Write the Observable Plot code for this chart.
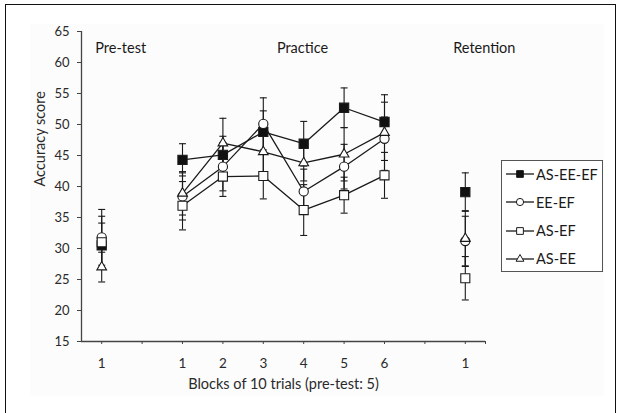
<!DOCTYPE html>
<html>
<head>
<meta charset="utf-8">
<script src="https://cdn.jsdelivr.net/npm/d3@7"></script>
<script src="https://cdn.jsdelivr.net/npm/@observablehq/plot@0.6"></script>
<style>
  html, body { margin: 0; padding: 0; background: #fff; overflow: hidden; }
  #wrap { position: relative; width: 620px; height: 413px; overflow: hidden; font-family: Lato, "Open Sans", sans-serif; }
  #frame { position: absolute; left: 5px; top: 4px; width: 611px; height: 430px; border: 1.5px solid #111; box-sizing: border-box; }
  #panel { position: absolute; left: 30px; top: 24px; width: 574px; height: 372px; background: #fcfcfc; }
  #chart { position: absolute; left: 0; top: 0; }
  #legend { position: absolute; left: 501px; top: 160px; width: 102px; height: 112px; border: 1.2px solid #555; box-sizing: border-box; background: #fff; }
  .item { position: absolute; left: 4px; height: 18px; display: flex; align-items: center; font-size: 14.5px; color: #1a1a1a; }
  .item svg { margin-right: 2px; }
</style>
</head>
<body>
<div id="wrap">
  <div id="frame"></div>
  <div id="panel"></div>
  <div id="chart"></div>
  <div id="legend"></div>
</div>
<script>
// ---- categories along the x axis (gaps separate the phases) ----
const categories = ["Pre 1", "gap A", "Practice 1", "Practice 2", "Practice 3", "Practice 4", "Practice 5", "Practice 6", "gap B", "Retention 1"];
const tickLabels = ["1", "", "1", "2", "3", "4", "5", "6", "", "1"];
const pointCategories = ["Pre 1", "Practice 1", "Practice 2", "Practice 3", "Practice 4", "Practice 5", "Practice 6", "Retention 1"];
const pointPhases = ["Pre-test", "Practice", "Practice", "Practice", "Practice", "Practice", "Practice", "Retention"];
const phaseNames = ["Pre-test", "Practice", "Retention"];

// ---- series ----
const seriesNames = ["AS-EE-EF", "EE-EF", "AS-EF", "AS-EE"];
const asEeEf    = [30.5, 44.3, 45.1, 48.8, 46.9, 52.7, 50.4, 39.1];
const asEeEfErr = [3.6, 2.6, 3.0, 3.4, 3.6, 3.2, 3.2, 3.1];
const eeEf      = [31.8, 38.4, 43.2, 50.1, 39.2, 43.2, 47.7, 31.2];
const eeEfErr   = [4.5, 3.8, 3.9, 4.2, 3.6, 3.6, 3.5, 4.0];
const asEf      = [31.0, 36.9, 41.6, 41.7, 36.2, 38.6, 41.8, 25.2];
const asEfErr   = [4.2, 3.9, 3.2, 3.7, 4.1, 2.9, 3.7, 3.5];
const asEe      = [27.0, 38.9, 47.0, 45.6, 43.8, 45.2, 48.7, 31.6];
const asEeErr   = [2.4, 3.5, 4.0, 3.7, 2.9, 4.3, 6.1, 4.5];
const seriesValues = [asEeEf, eeEf, asEf, asEe];
const seriesErrors = [asEeEfErr, eeEfErr, asEfErr, asEeErr];

// ---- styles ----
const markerSymbols = ["square", "circle", "square", "triangle"];
const markerFills = ["#111", "#fff", "#fff", "#fff"];
const markerR = [5.2, 4.6, 5.1, 3.6];

const pos = c => categories.indexOf(c) + 0.5;

const rows = [];
seriesNames.forEach((s, i) => {
  pointCategories.forEach((c, j) => {
    rows.push({series: s, si: i, cat: c, phase: pointPhases[j], x: pos(c), v: seriesValues[i][j], e: seriesErrors[i][j]});
  });
});

const phaseRows = phaseNames.map(p => {
  const xs = pointCategories.filter((c, j) => pointPhases[j] === p).map(pos);
  return {phase: p, x: d3.mean(xs)};
});

const capSymbol = {
  draw(context, size) {
    const r = Math.sqrt(size / Math.PI);
    context.moveTo(-r, 0);
    context.lineTo(r, 0);
  }
};

const ink = "#1a1a1a";
const axisInk = "#444";
const tickPositions = categories.map((c, i) => i + 0.5).concat([categories.length]);

const marks = [
  Plot.ruleX([0], {stroke: axisInk, strokeWidth: 1.3}),
  Plot.ruleY([15], {stroke: axisInk, strokeWidth: 1.3}),
  Plot.axisY({ticks: d3.range(15, 66, 5), tickSize: 4, tickPadding: 8, fontSize: 13, color: "#2a2a2a", stroke: axisInk, label: null}),
  Plot.axisX({ticks: tickPositions, tickSize: 3, tickPadding: 14, fontSize: 13.5, color: "#2a2a2a", stroke: axisInk,
    tickFormat: t => { const i = Math.round(t - 0.5); return Number.isInteger(t) ? "" : (tickLabels[i] ?? ""); }, label: null}),
  Plot.text(["Accuracy score"], {frameAnchor: "left", dx: -41, rotate: -90, fontSize: 14.5, fill: "#2a2a2a"}),
  Plot.text(["Blocks of 10 trials (pre-test: 5)"], {frameAnchor: "bottom", dy: 47, fontSize: 14.5, fill: "#2a2a2a"}),
  Plot.text(phaseRows, {x: "x", text: "phase", frameAnchor: "top", dx: 19, dy: 11, fontSize: 14.5, fill: "#1a1a1a"}),
  // connecting lines (practice only)
  Plot.line(rows.filter(d => d.phase === "Practice"), {x: "x", y: "v", z: "series", stroke: ink, strokeWidth: 1.3})
];

// error bars + markers, series by series
seriesNames.forEach((s, i) => {
  const data = rows.filter(d => d.si === i);
  marks.push(
    Plot.ruleX(data, {x: "x", y1: d => d.v - d.e, y2: d => d.v + d.e, stroke: ink, strokeWidth: 1.1}),
    Plot.dot(data, {x: "x", y: d => d.v + d.e, symbol: capSymbol, r: 3.5, fill: "none", stroke: ink, strokeWidth: 1.1}),
    Plot.dot(data, {x: "x", y: d => d.v - d.e, symbol: capSymbol, r: 3.5, fill: "none", stroke: ink, strokeWidth: 1.1})
  );
});
seriesNames.forEach((s, i) => {
  const data = rows.filter(d => d.si === i);
  marks.push(
    Plot.dot(data, {x: "x", y: "v", symbol: markerSymbols[i], r: markerR[i], fill: markerFills[i], stroke: ink, strokeWidth: 1.1})
  );
});

const chart = Plot.plot({
  width: 620,
  height: 413,
  marginLeft: 81,
  marginRight: 135,
  marginTop: 31,
  marginBottom: 72,
  style: {background: "transparent", fontFamily: "Lato, 'Open Sans', sans-serif"},
  x: {type: "linear", domain: [0, categories.length], axis: null},
  y: {domain: [15, 65], axis: null},
  marks
});
document.getElementById("chart").appendChild(chart);

// legend
const legend = document.getElementById("legend");
const legendR = [3.8, 3.6, 3.8, 2.9];
seriesNames.forEach((s, i) => {
  const item = document.createElement("div");
  item.className = "item";
  item.style.top = (4 + i * 28.3) + "px";
  const svg = d3.create("svg").attr("width", 28).attr("height", 14);
  svg.append("line").attr("x1", 0).attr("x2", 28).attr("y1", 7).attr("y2", 7).attr("stroke", ink).attr("stroke-width", 1.3);
  const symType = {square: d3.symbolSquare, circle: d3.symbolCircle, triangle: d3.symbolTriangle}[markerSymbols[i]];
  svg.append("path").attr("transform", "translate(14,7)")
    .attr("d", d3.symbol(symType, legendR[i] * legendR[i] * Math.PI)())
    .attr("fill", markerFills[i]).attr("stroke", ink).attr("stroke-width", 1);
  item.appendChild(svg.node());
  const span = document.createElement("span");
  span.textContent = s;
  item.appendChild(span);
  legend.appendChild(item);
});
</script>
</body>
</html>
